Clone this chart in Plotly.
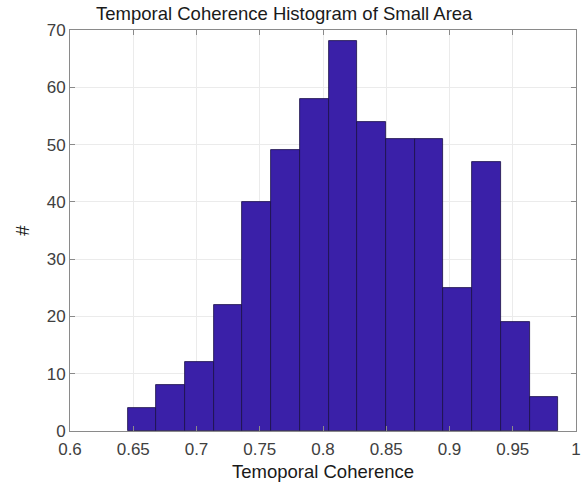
import plotly.graph_objects as go

# Data
bin_start = 0.6455
bin_width = 0.0227
counts = [4, 8, 12, 22, 40, 49, 58, 68, 54, 51, 51, 25, 47, 19, 6]
x_ticks = [0.6, 0.65, 0.7, 0.75, 0.8, 0.85, 0.9, 0.95, 1.0]
x_tick_labels = ["0.6", "0.65", "0.7", "0.75", "0.8", "0.85", "0.9", "0.95", "1"]
y_ticks = [0, 10, 20, 30, 40, 50, 60, 70]

centers = [bin_start + bin_width * (i + 0.5) for i in range(len(counts))]

fig = go.Figure()
fig.add_trace(go.Bar(
    x=centers, y=counts, width=[bin_width] * len(counts),
    marker=dict(color="rgb(58,32,168)", line=dict(color="rgb(25,15,70)", width=0.8)),
    showlegend=False,
))

font_family = "Liberation Sans, Arial, sans-serif"
fig.update_layout(
    width=586, height=487,
    margin=dict(l=70, r=5, t=30, b=56),
    paper_bgcolor="white", plot_bgcolor="white",
    font=dict(family=font_family, color="#262626"),
    title=dict(text="Temporal Coherence Histogram of Small Area", x=0.485, xanchor="center",
               y=0.972, yanchor="middle", font=dict(size=18.5, color="#1a1a1a")),
    bargap=0,
)
fig.update_xaxes(
    range=[0.6, 1.0], tickvals=x_ticks, ticktext=x_tick_labels,
    showgrid=True, gridcolor="#ebebeb", gridwidth=1,
    showline=True, linecolor="#8a8a8a", linewidth=1, mirror="ticks",
    ticks="inside", ticklen=5, tickcolor="#8a8a8a",
    tickfont=dict(size=17, color="#404040"),
    ticklabelstandoff=3,
    title=dict(text="Temoporal Coherence", font=dict(size=18.5, color="#1a1a1a"), standoff=6),
    zeroline=False,
)
fig.update_yaxes(
    range=[0, 70], tickvals=y_ticks,
    showgrid=True, gridcolor="#ebebeb", gridwidth=1,
    showline=True, linecolor="#8a8a8a", linewidth=1, mirror="ticks",
    ticks="inside", ticklen=5, tickcolor="#8a8a8a",
    tickfont=dict(size=17, color="#404040"),
    title=dict(text="#", font=dict(size=18.5, color="#1a1a1a"), standoff=12),
    zeroline=False,
)

fig.write_html("out.html")
